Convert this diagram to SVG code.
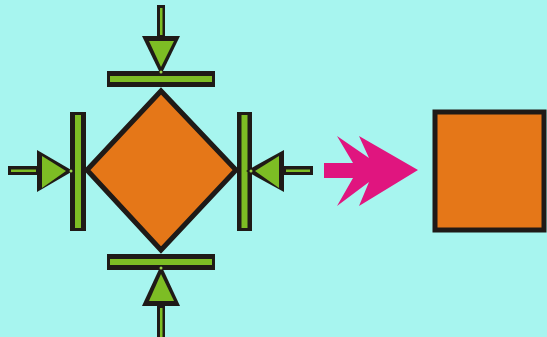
<svg xmlns="http://www.w3.org/2000/svg" width="547" height="337" viewBox="0 0 547 337">
  <style>
    .bar { fill: #1f1a17; }
    .strip { fill: #7dbd24; }
    .tri { fill: #1f1a17; }
    .tri-in { fill: #7dbd24; }
    .dot { fill: #9bd449; }
    .shape { fill: #e57718; stroke: #1f1a17; stroke-width: 5; }
  </style>
  <rect width="547" height="337" fill="#a7f5ef"/>

  <!-- Diamond -->
  <g id="diamond">
    <polygon class="shape" points="87,170 161,91 236,170 161,250" stroke-linejoin="miter"/>
  </g>

  <!-- Top press: stem, wedge, bar -->
  <g id="press-top">
    <rect class="bar" x="157" y="5" width="8" height="33"/>
    <rect class="strip" x="160" y="8" width="2.5" height="27"/>
    <polygon class="tri" points="142,36 180,36 161,75"/>
    <polygon class="tri-in" points="149,41 174,41 161,67"/>
    <rect class="bar" x="107" y="71" width="108" height="16"/>
    <rect class="strip" x="110" y="76" width="102" height="6"/>
    <circle class="dot" cx="161" cy="72" r="1.5"/>
  </g>

  <!-- Bottom press -->
  <g id="press-bottom">
    <rect class="bar" x="107" y="254" width="108" height="16"/>
    <rect class="strip" x="110" y="259" width="102" height="6"/>
    <polygon class="tri" points="142,306 180,306 161,265"/>
    <polygon class="tri-in" points="149,301 174,301 161,274"/>
    <rect class="bar" x="157" y="305" width="8" height="32"/>
    <rect class="strip" x="160" y="308" width="2.5" height="29"/>
    <circle class="dot" cx="161" cy="268" r="1.5"/>
  </g>

  <!-- Left press -->
  <g id="press-left">
    <rect class="bar" x="8" y="166" width="30" height="9"/>
    <rect class="strip" x="11" y="169.5" width="25" height="2.5"/>
    <polygon class="tri" points="37,150 37,192 73,171"/>
    <polygon class="tri-in" points="42,156 42,188 66,171"/>
    <rect class="bar" x="70" y="112" width="16" height="119"/>
    <rect class="strip" x="75" y="115" width="6" height="113"/>
    <circle class="dot" cx="71" cy="171" r="1.5"/>
  </g>

  <!-- Right press -->
  <g id="press-right">
    <rect class="bar" x="237" y="112" width="15" height="119"/>
    <rect class="strip" x="241.5" y="115" width="6" height="113"/>
    <polygon class="tri" points="284,150 284,192 246,171"/>
    <polygon class="tri-in" points="279,156 279,188 255,171"/>
    <rect class="bar" x="284" y="166" width="29" height="9"/>
    <rect class="strip" x="286" y="169.5" width="24" height="2.5"/>
    <circle class="dot" cx="251" cy="171" r="1.5"/>
  </g>

  <!-- Result arrow -->
  <g id="arrow">
    <polygon fill="#e0157f" points="324,163 353,163 337,136 369,158 359,136 418,170 359,206 369,182 337,206 353,178 324,178"/>
  </g>

  <!-- Square -->
  <g id="square">
    <rect class="shape" x="435" y="112" width="109" height="118"/>
  </g>
</svg>
